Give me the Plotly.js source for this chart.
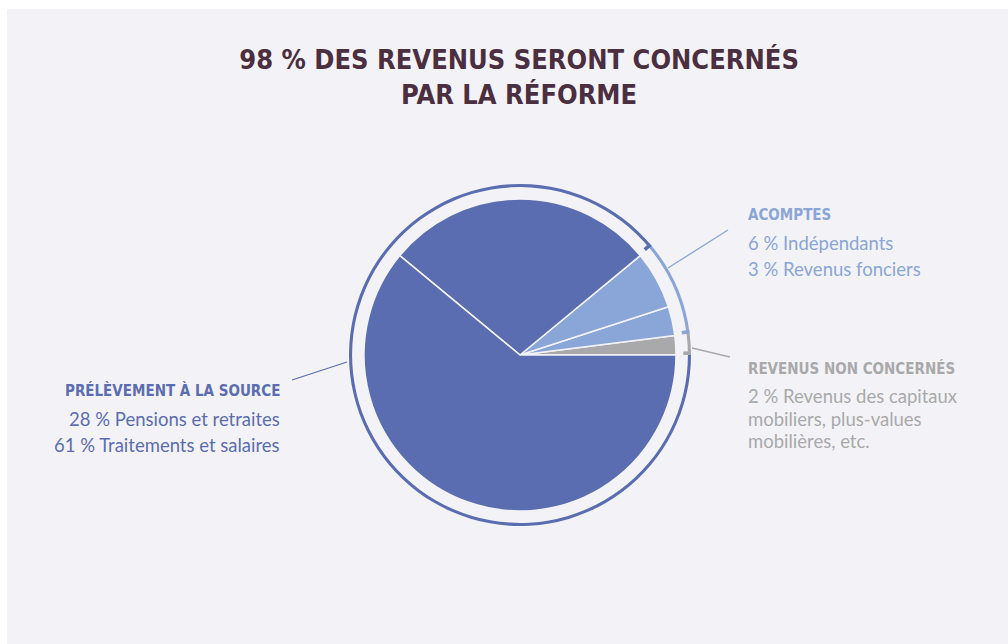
<!DOCTYPE html>
<html><head><meta charset="utf-8">
<script src="https://cdn.plot.ly/plotly-3.0.1.min.js"></script>
<style>html,body{margin:0;padding:0;background:#fff}</style>
</head><body><div id="chart" style="width:1008px;height:644px"></div>
<script>
// Data (share of revenus, %), counterclockwise from 3 o'clock
const sliceLabels = ["Revenus des capitaux mobiliers, plus-values mobilières, etc.", "Revenus fonciers", "Indépendants", "Pensions et retraites", "Traitements et salaires"];
const sliceValues = [2, 3, 6, 28, 61];
const sliceColors = ["#a9a9ab", "#8aa5d7", "#8aa5d7", "#5b6db1", "#5b6db1"];

const groupLabels = ["Revenus non concernés", "Acomptes", "Prélèvement à la source"];
const groupValues = [2, 9, 89];
const groupColors = ["#a9a9ab", "#8aa5d7", "#5b6db1"];

const W = 1008, H = 644;
const cx = 520, cy = 355, rPie = 156, rRing = 171;
function dom(r){ return {x:[(cx-r)/W,(cx+r)/W], y:[1-(cy+r)/H,1-(cy-r)/H]}; }
// Plotly places the first counterclockwise slice clockwise of `rotation`; shift so it starts at 3 o'clock
function rot(vals){ const s = vals.reduce((a,b)=>a+b,0); return 90 - vals[0]/s*360; }

// ticks at the start of each ring segment
const tickW = 0.35;
const tickVals = [], tickCols = [];
groupValues.forEach((v,i)=>{ tickVals.push(tickW, v - tickW); tickCols.push(groupColors[i], "rgba(0,0,0,0)"); });

const bg = "#f3f3f7";
const traces = [
  {type:"pie", values:sliceValues, labels:sliceLabels, sort:false, direction:"counterclockwise", rotation:rot(sliceValues),
   marker:{colors:sliceColors, line:{color:bg, width:1.5}}, textinfo:"none", hoverinfo:"none", showlegend:false, domain:dom(rPie)},
  {type:"pie", values:groupValues, labels:groupLabels, sort:false, direction:"counterclockwise", rotation:rot(groupValues), hole:0.982,
   marker:{colors:groupColors, line:{width:0}}, textinfo:"none", hoverinfo:"none", showlegend:false, domain:dom(rRing)},
  {type:"pie", values:tickVals, labels:tickVals.map((v,i)=>"t"+i), sort:false, direction:"counterclockwise", rotation:rot(tickVals), hole:0.955,
   marker:{colors:tickCols, line:{width:0}}, textinfo:"none", hoverinfo:"none", showlegend:false, domain:dom(rRing)}
];

const titleFont = "'DejaVu Sans Condensed', 'DejaVu Sans', sans-serif";
const bodyFont = "Lato, 'Open Sans', sans-serif";
const dark = "#5b6db1", light = "#8aa5d7", grey = "#a9a9ab";
function ann(text, x, y, color, family, size, anchor, bold){
  const f = {family, size, color};
  if (bold) { f.weight = "bold"; f.stretch = "condensed"; }
  return {text, x:x/W, y:1-y/H, xref:"paper", yref:"paper", showarrow:false, xanchor:anchor, yanchor:"middle", font:f};
}
const annotations = [
  ann("PRÉLÈVEMENT À LA SOURCE", 282, 390, dark, titleFont, 15, "right", true),
  ann(sliceValues[3]+" % "+sliceLabels[3], 282, 419, dark, bodyFont, 18.5, "right"),
  ann(sliceValues[4]+" % "+sliceLabels[4], 282, 445, dark, bodyFont, 18.5, "right"),
  ann("ACOMPTES", 746, 215, light, titleFont, 15, "left", true),
  ann(sliceValues[2]+" % "+sliceLabels[2], 746, 243, light, bodyFont, 18.5, "left"),
  ann(sliceValues[1]+" % "+sliceLabels[1], 746, 269, light, bodyFont, 18.5, "left"),
  ann("REVENUS NON CONCERNÉS", 746, 368, grey, titleFont, 15, "left", true),
  ann(sliceValues[0]+" % Revenus des capitaux", 746, 396, grey, bodyFont, 18.5, "left"),
  ann("mobiliers, plus-values", 746, 419, grey, bodyFont, 18.5, "left"),
  ann("mobilières, etc.", 746, 441, grey, bodyFont, 18.5, "left")
];
function line(x0,y0,x1,y1,color){
  return {type:"line", xref:"paper", yref:"paper", x0:x0/W, y0:1-y0/H, x1:x1/W, y1:1-y1/H, line:{color, width:1.3}, layer:"above"};
}
const layout = {
  width:W, height:H, margin:{l:0,r:0,t:0,b:0}, paper_bgcolor:"#ffffff",
  title:{text:"98 % DES REVENUS SERONT CONCERNÉS<br>PAR LA RÉFORME", x:0.515, xanchor:"center", y:1-69/H, yanchor:"middle",
         font:{family:titleFont, size:27, color:"#4b2e40", weight:"bold", stretch:"condensed"}},
  annotations,
  shapes:[
    {type:"rect", xref:"paper", yref:"paper", x0:7/W, x1:1, y0:0, y1:1-9/H, fillcolor:bg, line:{width:0}, layer:"below"},
    line(292,380,347,362,dark),
    line(668,268,728,230,light),
    line(692,348,730,357,grey)
  ]
};
Plotly.newPlot("chart", traces, layout, {displayModeBar:false, staticPlot:true});
</script></body></html>
